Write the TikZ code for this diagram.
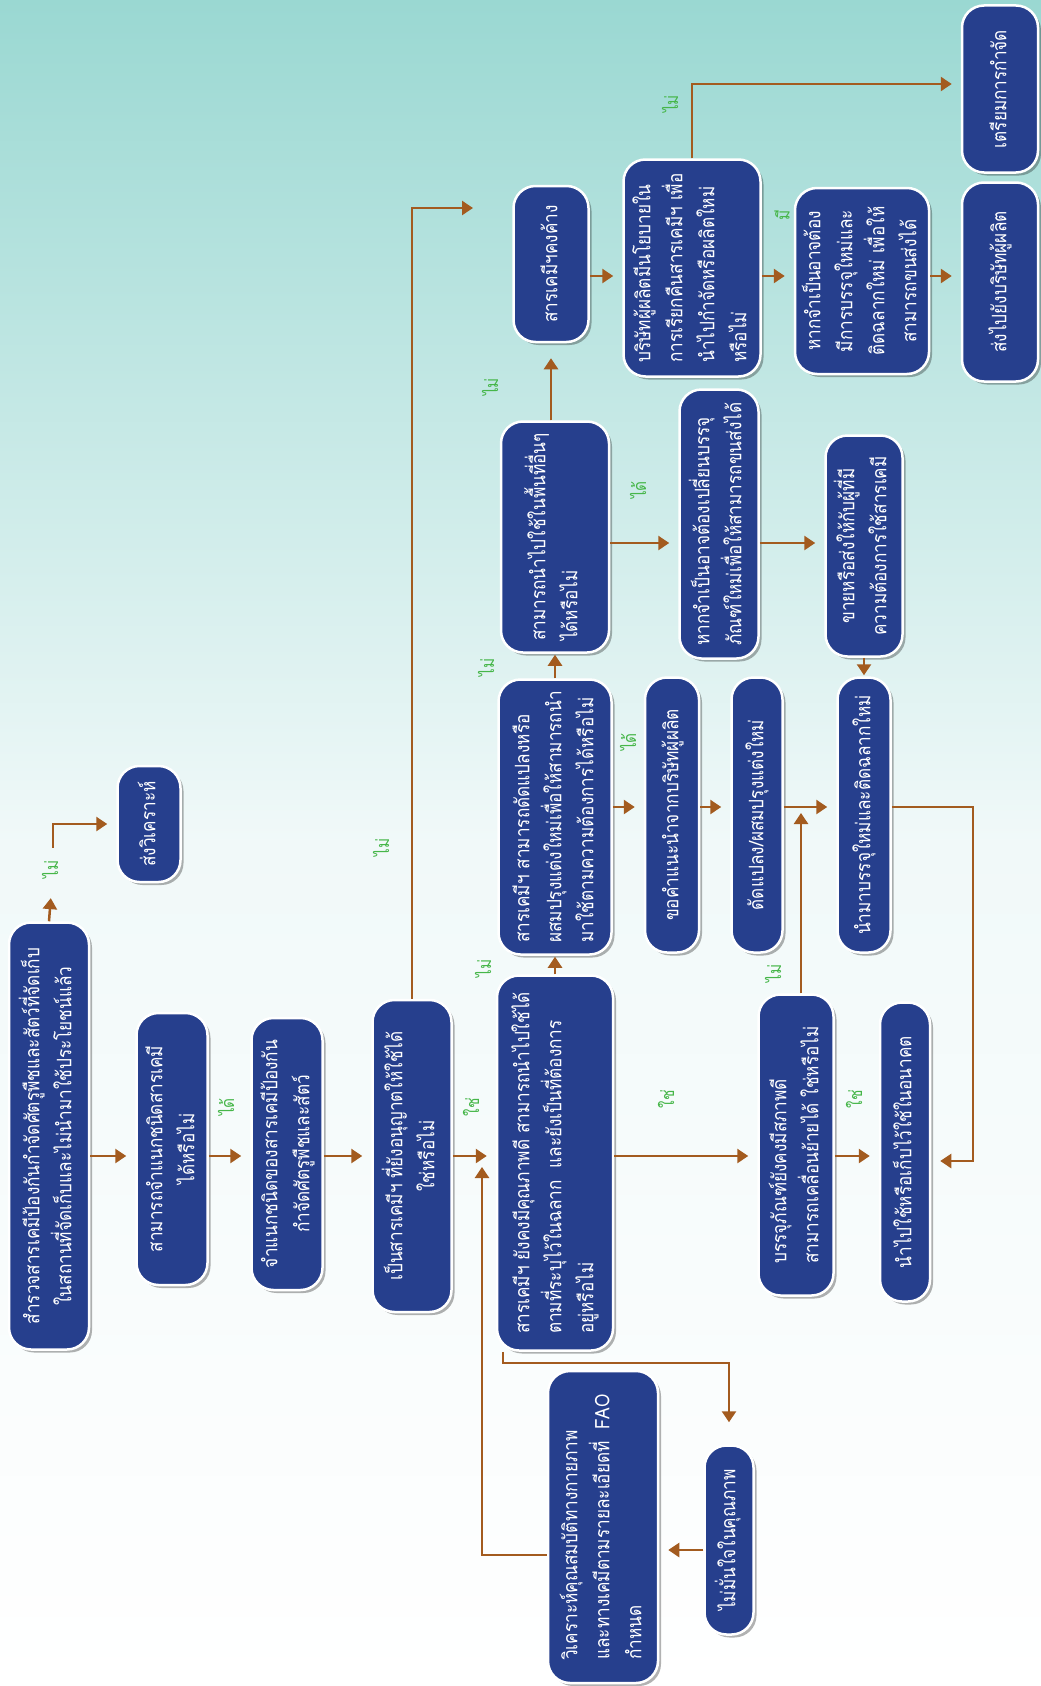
\documentclass[tikz,border=0pt]{standalone}
\usepackage{fontspec}
\usepackage{graphicx}
\newfontfamily\thaifont[Script=Thai]{Loma}
\newfontfamily\thainarrow[Script=Thai, FakeStretch=0.86]{Loma}
\usetikzlibrary{arrows.meta, shadows}
\definecolor{boxblue}{HTML}{263F8D}
\definecolor{arrbrown}{HTML}{A35B1F}
\definecolor{yesgreen}{HTML}{46B649}
\definecolor{bgteal}{HTML}{9AD8D2}
\definecolor{bgpale}{HTML}{F1F9F9}
\newcommand{\vtext}[2][c]{\rotatebox{90}{\begin{tabular}{@{}#1@{}}#2\end{tabular}}}
\tikzset{
    box/.style={draw=white, line width=2.5pt, fill=boxblue, rounded corners=22pt,
        text=white, inner sep=3pt, font=\thainarrow\fontsize{20}{32}\selectfont,
        drop shadow={shadow xshift=3pt, shadow yshift=-3pt, opacity=0.3, fill=black}},
    sz/.style 2 args={minimum width=#1pt, minimum height=#2pt},
    lbl/.style={text=yesgreen, inner sep=0pt, font=\thainarrow\fontsize{18}{20}\selectfont},
    arr/.style={draw=arrbrown, line width=2.5pt, ->, >={Triangle[length=11pt, width=14pt]}, shorten >=9pt},
}

\begin{document}
\begin{tikzpicture}[x=1pt, y=-1pt]
\useasboundingbox (0,0) rectangle (1041,1686);
\shade[top color=bgteal, bottom color=bgpale] (0,0) rectangle (1041,843);
\shade[top color=bgpale, bottom color=white] (0,843) rectangle (1041,1686);

% boxes
\node[box, sz={80}{427}] (survey) at (49,1136) {\vtext{สำรวจสารเคมีป้องกันกำจัดศัตรูพืชและสัตว์ที่จัดเก็บ\\ในสถานที่จัดเก็บและไม่นำมาใช้ประโยชน์แล้ว}};
\node[box, sz={63}{116}] (sendlab) at (149,824) {\vtext{ส่งวิเคราะห์}};
\node[box, sz={71}{272}] (classify) at (172,1149) {\vtext{สามารถจำแนกชนิดสารเคมี\\ได้หรือไม่}};
\node[box, sz={71}{272}] (identify) at (287,1154) {\vtext{จำแนกชนิดของสารเคมีป้องกัน\\กำจัดศัตรูพืชและสัตว์}};
\node[box, sz={79}{312}] (permit) at (412,1156) {\vtext{เป็นสารเคมีฯ ที่ยังอนุญาตให้ใช้ได้\\ใช่หรือไม่}};
\node[box, sz={116}{375}] (quality) at (555,1163) {\vtext[l]{สารเคมีฯ ยังคงมีคุณภาพดี สามารถนำไปใช้ได้\\ตามที่ระบุไว้ในฉลาก\ \ และยังเป็นที่ต้องการ\\อยู่หรือไม่}};
\node[box, sz={113}{275}] (modify) at (555,817) {\vtext[l]{สารเคมีฯ สามารถดัดแปลงหรือ\\ผสมปรุงแต่งใหม่เพื่อให้สามารถนำ\\มาใช้ตามความต้องการได้หรือไม่}};
\node[box, sz={108}{231}] (otherarea) at (555,537) {\vtext[l]{สามารถนำไปใช้ในพื้นที่อื่นๆ\\ได้หรือไม่}};
\node[box, sz={75}{156}] (leftover) at (551,264) {\vtext{สารเคมีฯคงค้าง}};
\node[box, sz={137}{217}] (recall) at (692,268) {\vtext[l]{บริษัทผู้ผลิตมีนโยบายใน\\การเรียกคืนสารเคมีฯ เพื่อ\\นำไปกำจัดหรือผลิตใหม่\\หรือไม่}};
\node[box, sz={76}{167}] (dispose) at (1000,89) {\vtext{เตรียมการกำจัด}};
\node[box, sz={126}{186}] (repack) at (862,281) {\vtext{หากจำเป็นอาจต้อง\\มีการบรรจุใหม่และ\\ติดฉลากใหม่ เพื่อให้\\สามารถขนส่งได้}};
\node[box, sz={76}{199}] (tomaker) at (1000,282) {\vtext{ส่งไปยังบริษัทผู้ผลิต}};
\node[box, sz={79}{269}] (newpack) at (719,524) {\vtext[l]{หากจำเป็นอาจต้องเปลี่ยนบรรจุ\\ภัณฑ์ใหม่เพื่อให้สามารถขนส่งได้}};
\node[box, sz={77}{221}] (sell) at (864,546) {\vtext{ขายหรือส่งให้กับผู้ที่มี\\ความต้องการใช้สารเคมี}};
\node[box, sz={54}{275}] (advice) at (672,815) {\vtext{ขอคำแนะนำจากบริษัทผู้ผลิต}};
\node[box, sz={51}{275}] (adapt) at (757,815) {\vtext{ดัดแปลง/ผสมปรุงแต่งใหม่}};
\node[box, sz={53}{275}] (relabel) at (864,815) {\vtext{นำมาบรรจุใหม่และติดฉลากใหม่}};
\node[box, sz={75}{301}] (movable) at (796,1145) {\vtext[l]{บรรจุภัณฑ์ยังคงมีสภาพดี\\สามารถเคลื่อนย้ายได้ ใช่หรือไม่}};
\node[box, sz={50}{299}] (useit) at (905,1152) {\vtext{นำไปใช้หรือเก็บไว้ใช้ในอนาคต}};
\node[box, sz={110}{312}] (analyse) at (603,1527) {\vtext[l]{วิเคราะห์คุณสมบัติทางกายภาพ\\และทางเคมีตามรายละเอียดที่\ \ FAO\\กำหนด}};
\node[box, sz={49}{189}] (unsure) at (729,1540) {\vtext{ไม่มั่นใจในคุณภาพ}};

% answers
\node[lbl] (no1) at (53,869) {\vtext{ไม่}};
\node[lbl] (ok1) at (229,1107) {\vtext{ได้}};
\node[lbl] (yes1) at (474,1107) {\vtext{ใช่}};
\node[lbl] (no2) at (384,847) {\vtext{ไม่}};
\node[lbl] (no3) at (486,968) {\vtext{ไม่}};
\node[lbl] (no4) at (489,667) {\vtext{ไม่}};
\node[lbl] (no5) at (493,387) {\vtext{ไม่}};
\node[lbl] (no6) at (673,104) {\vtext{ไม่}};
\node[lbl] (has1) at (785,215) {\vtext{มี}};
\node[lbl] (ok2) at (641,490) {\vtext{ได้}};
\node[lbl] (ok3) at (631,742) {\vtext{ได้}};
\node[lbl] (no7) at (776,973) {\vtext{ไม่}};
\node[lbl] (yes2) at (669,1099) {\vtext{ใช่}};
\node[lbl] (yes3) at (857,1099) {\vtext{ใช่}};

% helper rows
\coordinate (row1) at (0,1156);
\coordinate (row2) at (0,276);
\coordinate (row3) at (0,84);
\coordinate (row4) at (0,543);
\coordinate (row5) at (0,807);
\coordinate (row7) at (0,1550);
\coordinate (row8) at (0,1555);
\coordinate (dtip) at (473,208);
\coordinate (rv) at (801,0);
\coordinate (qc) at (973,1161);
\coordinate (ev) at (503,1363);
\coordinate (tv) at (482,1167);

% connectors
\draw[arr] (survey.east |- row1) -- (classify.west |- row1);
\draw[arr] (classify.east |- row1) -- (identify.west |- row1);
\draw[arr] (identify.east |- row1) -- (permit.west |- row1);
\draw[arr] (permit.east |- row1) -- (quality.west |- row1);
\draw[arr] (quality.east |- row1) -- (movable.west |- row1);
\draw[arr] (movable.east |- row1) -- (useit.west |- row1);
\draw[arr, shorten >=20pt] (survey.north) -- (no1);
\draw[arr, shorten <=12pt] (no1) |- (sendlab.west);
\draw[arr, shorten >=0pt] (permit.north) |- (dtip);
\draw[arr, shorten >=1pt] (quality.north) -- (modify.south);
\draw[arr, shorten >=1pt] (modify.north) -- (otherarea.south);
\draw[arr, shorten >=15pt] (otherarea.north -| leftover) -- (leftover.south);
\draw[arr] (leftover.east |- row2) -- (recall.west |- row2);
\draw[arr] (recall.north) |- (dispose.west |- row3);
\draw[arr] (recall.east |- row2) -- (repack.west |- row2);
\draw[arr] (repack.east |- row2) -- (tomaker.west |- row2);
\draw[arr] (otherarea.east |- row4) -- (newpack.west |- row4);
\draw[arr] (newpack.east |- row4) -- (sell.west |- row4);
\draw[arr, shorten >=1pt] (sell.south) -- (relabel.north);
\draw[arr] (modify.east |- row5) -- (advice.west |- row5);
\draw[arr] (advice.east |- row5) -- (adapt.west |- row5);
\draw[arr] (adapt.east |- row5) -- (relabel.west |- row5);
\draw[arr, shorten >=6pt] (movable.north -| rv) -- (rv |- row5);
\draw[arr] (relabel.east |- row5) -| (qc) -- (useit.east |- qc);
\draw[arr, shorten >=22pt] (quality.south -| ev) -- (ev) -| (unsure.north);
\draw[arr] (unsure.west |- row7) -- (analyse.east |- row7);
\draw[arr, shorten >=0pt] (analyse.west |- row8) -| (tv);
\end{tikzpicture}
\end{document}
